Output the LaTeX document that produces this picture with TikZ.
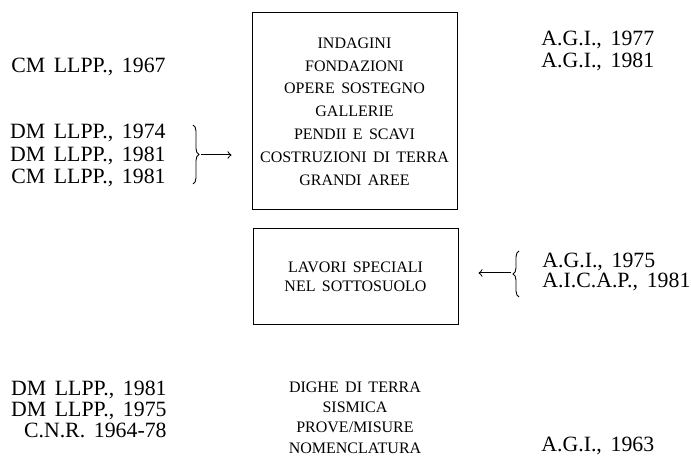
\documentclass[tikz,border=0pt]{standalone}
\usepackage{fontspec}
\setmainfont{Liberation Serif}[WordSpace=1.6]
\usetikzlibrary{decorations.pathreplacing}

\begin{document}
\begin{tikzpicture}[x=0.5pt,y=-0.5pt,
		reftext/.style={inner sep=0pt,font=\fontsize{10.9}{11.25}\selectfont},
		topictext/.style={inner sep=0pt,align=center,font=\fontsize{8}{10.2}\selectfont},
		topicbox/.style={draw,line width=0.5pt,inner sep=0pt,align=center,minimum width=102.5pt},
		bracket/.style={decorate,decoration={brace,amplitude=3pt},line width=0.45pt}]
			%%%%% START %%%%%
			\useasboundingbox (0,0) rectangle (691,459);
			
			\node[topicbox,minimum height=98.5pt,font=\fontsize{8}{11.4}\selectfont] (upperbox) at (354.5,111.5)
				{INDAGINI\\FONDAZIONI\\OPERE SOSTEGNO\\GALLERIE\\PENDII E SCAVI\\COSTRUZIONI DI TERRA\\GRANDI AREE};
			\node[topicbox,minimum height=48pt,font=\fontsize{8}{9.75}\selectfont] (lowerbox) at (355.5,277)
				{LAVORI SPECIALI\\NEL SOTTOSUOLO};
			\node[topictext] (others) at (355,417.5) {DIGHE DI TERRA\\SISMICA\\PROVE/MISURE\\NOMENCLATURA};
			
			\node[reftext,anchor=east] (cm67) at (166,67) {CM LLPP., 1967};
			\node[reftext,anchor=east,align=right] (dmgroup) at (166,155.5) {DM LLPP., 1974\\DM LLPP., 1981\\CM LLPP., 1981};
			\node[reftext,anchor=east,align=right,font=\fontsize{10.9}{10.5}\selectfont] (lowgroup) at (167,409) {DM LLPP., 1981\\DM LLPP., 1975\\C.N.R. 1964-78};
			
			\node[reftext,anchor=west,align=left] (agitop) at (541,51) {A.G.I., 1977\\A.G.I., 1981};
			\node[reftext,anchor=west,align=left,font=\fontsize{10.9}{9.8}\selectfont] (agimid) at (542,272) {A.G.I., 1975\\A.I.C.A.P., 1981};
			\node[reftext,anchor=west] (agi63) at (541,446) {A.G.I., 1963};
			
			\draw[bracket] (193,125) -- (193,184);
			\coordinate (ltip) at (201,155);
			\draw[->,line width=0.5pt,shorten >=10pt] (ltip) -- (upperbox.west |- ltip);
			
			\draw[bracket] (519,297) -- (519,251);
			\coordinate (rtip) at (511,273);
			\draw[->,line width=0.5pt,shorten >=10pt] (rtip) -- (lowerbox.east |- rtip);
			%%%%% END %%%%%
\end{tikzpicture}
\end{document}
